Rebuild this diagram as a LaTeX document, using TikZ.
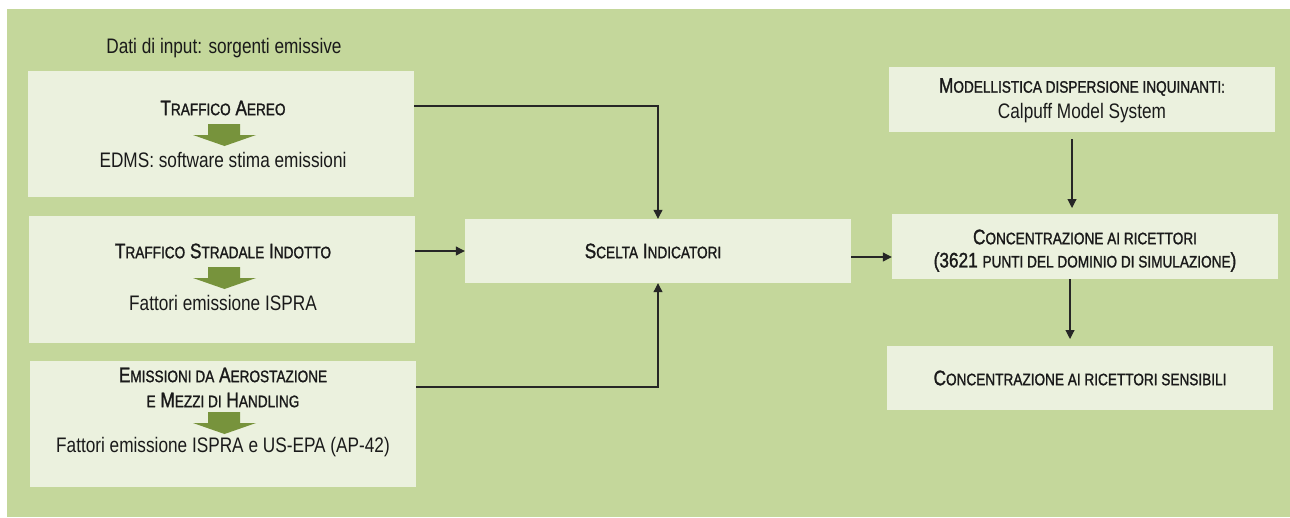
\documentclass[tikz,border=0pt]{standalone}
\usepackage{fontspec}
\setmainfont{Liberation Sans}[FakeStretch=0.82]
\newfontfamily\scfont{Liberation Sans}[FakeStretch=0.82, FakeBold=1.3]
\usetikzlibrary{arrows.meta}
\definecolor{bggreen}{HTML}{C4D79B}
\definecolor{boxfill}{HTML}{EBF1DE}
\definecolor{arrgreen}{HTML}{77933C}
\definecolor{txt}{HTML}{1A1A1A}
\newcommand\smc[1]{{\scfont\fontsize{16.6}{19}\selectfont #1}}
\newcommand\bigc[1]{{\scfont\fontsize{21}{24}\selectfont #1}}
\tikzset{
  panel/.style={fill=boxfill, draw=none, inner sep=0pt},
  lbl/.style={text=txt, font=\fontsize{21}{24}\selectfont, inner sep=0pt, anchor=center},
  conn/.style={draw=black!85, line width=1.1pt},
  arr/.style={conn, -{Triangle[length=9pt,width=9pt]}},
}
\begin{document}
\begin{tikzpicture}[x=1pt,y=-1pt]
\useasboundingbox (0,0) rectangle (1290,517);
\fill[bggreen] (7,9) rectangle (1290,517);
% panels
\path[panel] (28,71) rectangle (414,197);
\coordinate (Ar) at (414,106);
\path[panel] (29,216) rectangle (415,343);
\coordinate (Br) at (415,251);
\path[panel] (30,361) rectangle (416,487);
\coordinate (Cr) at (416,387);
\node[panel, minimum width=386pt, minimum height=64pt] (sc) at (658,251) {};
\node[panel, minimum width=386pt, minimum height=65pt] (mod) at (1082,99.5) {};
\node[panel, minimum width=386pt, minimum height=65pt] (conc) at (1085,246.5) {};
\node[panel, minimum width=386pt, minimum height=64pt] (sens) at (1080,378) {};
% texts
\node[lbl] (dati) at (224,48) {Dati di input: sorgenti emissive};
\node[lbl] (ta) at (223,108) {\bigc{T}\smc{RAFFICO} \bigc{A}\smc{EREO}};
\node[lbl] (edms) at (223,160) {EDMS: software stima emissioni};
\node[lbl] (ts) at (223,251) {\bigc{T}\smc{RAFFICO} \bigc{S}\smc{TRADALE} \bigc{I}\smc{NDOTTO}};
\node[lbl] (fe) at (223,303) {Fattori emissione ISPRA};
\node[lbl] (em1) at (223,375) {\bigc{E}\smc{MISSIONI DA} \bigc{A}\smc{EROSTAZIONE}};
\node[lbl] (em2) at (223,400) {\smc{E} \bigc{M}\smc{EZZI DI} \bigc{H}\smc{ANDLING}};
\node[lbl] (fe2) at (223,447) {Fattori emissione ISPRA e US-EPA (AP-42)};
\node[lbl] at (653,251) {\bigc{S}\smc{CELTA} \bigc{I}\smc{NDICATORI}};
\node[lbl] (m1) at (1082,87) {\bigc{M}\smc{ODELLISTICA DISPERSIONE INQUINANTI:}};
\node[lbl] (m2) at (1082,113) {Calpuff Model System};
\node[lbl] (c1) at (1085,237) {\bigc{C}\smc{ONCENTRAZIONE AI RICETTORI}};
\node[lbl] (c2) at (1085,262) {\bigc{(3621} \smc{PUNTI DEL DOMINIO DI SIMULAZIONE}\bigc{)}};
\node[lbl] at (sens.center) {\bigc{C}\smc{ONCENTRAZIONE AI RICETTORI SENSIBILI}};
% green block arrows
\foreach \y in {124,267,412}{
  \fill[arrgreen] (208,\y) rectangle (240,\y+11)
     (193,\y+11) -- (256,\y+11) -- (224.5,\y+22) -- cycle;
}
% connectors
\draw[arr] (Ar) -| (sc.north);
\draw[arr] (Br) -- (sc.west |- Br);
\draw[arr] (Cr) -| (sc.south);
\draw[arr] (sc.east |- 0,257) -- (conc.west |- 0,257);
\draw[arr] (mod.south -| 1072,0) ++(0,7) -- (1072,208);
\draw[arr] (conc.south -| 1070,0) -- (1070,339);
\end{tikzpicture}
\end{document}
